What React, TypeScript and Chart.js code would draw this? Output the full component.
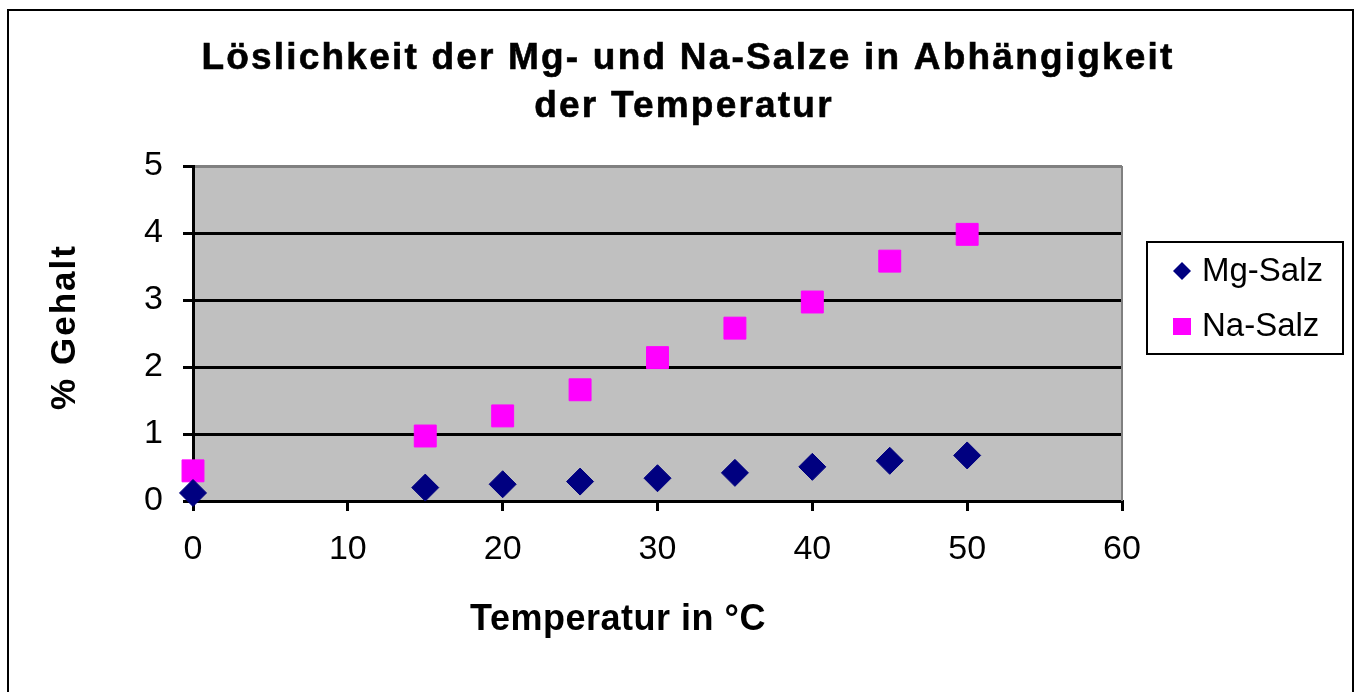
import React, { useEffect, useRef } from "react";
import { Chart, registerables } from "chart.js";

Chart.register(...registerables);

const titleLines = ["Löslichkeit der Mg- und Na-Salze in Abhängigkeit", "der Temperatur"];
const xAxisTitle = "Temperatur in °C";
const yAxisTitle = "% Gehalt";
const seriesNames = ["Mg-Salz", "Na-Salz"];
const temperatures = [0, 15, 20, 25, 30, 35, 40, 45, 50];
const mgValues = [0.12, 0.2, 0.25, 0.29, 0.34, 0.42, 0.51, 0.6, 0.68];
const naValues = [0.45, 0.97, 1.27, 1.66, 2.14, 2.58, 2.97, 3.58, 3.98];

const FONT = '"Liberation Sans", Arial, sans-serif';

const decorPlugin = {
  id: "decor",
  beforeDraw(chart: any) {
    const { ctx, chartArea } = chart;
    ctx.save();
    ctx.fillStyle = "#ffffff";
    ctx.fillRect(0, 0, chart.width, chart.height);
    ctx.fillStyle = "#C0C0C0";
    ctx.fillRect(chartArea.left, chartArea.top, chartArea.right - chartArea.left, chartArea.bottom - chartArea.top);
    ctx.restore();
  },
  beforeDatasetsDraw(chart: any) {
    const { ctx, chartArea } = chart;
    ctx.save();
    ctx.strokeStyle = "#808080";
    ctx.lineWidth = 2;
    ctx.beginPath();
    ctx.moveTo(chartArea.right, chartArea.top);
    ctx.lineTo(chartArea.right, chartArea.bottom);
    ctx.stroke();
    ctx.restore();
  },
  afterDraw(chart: any) {
    const { ctx } = chart;
    ctx.save();
    // outer border
    ctx.strokeStyle = "#000";
    ctx.lineWidth = 2;
    ctx.strokeRect(8, 10, 1345, 700);

    // title
    ctx.fillStyle = "#000";
    ctx.strokeStyle = "#000";
    ctx.font = `bold 37px ${FONT}`;
    (ctx as any).letterSpacing = "2.2px";
    ctx.textAlign = "center";
    ctx.textBaseline = "alphabetic";
    ctx.lineWidth = 0.6;
    ctx.fillText(titleLines[0], 688, 69);
    ctx.strokeText(titleLines[0], 688, 69);
    ctx.fillText(titleLines[1], 684, 117);
    ctx.strokeText(titleLines[1], 684, 117);

    // x axis title
    (ctx as any).letterSpacing = "0.5px";
    ctx.font = `bold 36px ${FONT}`;
    ctx.fillText(xAxisTitle, 618, 630);

    // y axis title
    (ctx as any).letterSpacing = "2px";
    ctx.font = `bold 35px ${FONT}`;
    ctx.save();
    ctx.translate(75, 327);
    ctx.rotate(-Math.PI / 2);
    ctx.fillText(yAxisTitle, 0, 0);
    ctx.restore();

    // legend
    (ctx as any).letterSpacing = "0px";
    ctx.strokeStyle = "#000";
    ctx.lineWidth = 2;
    ctx.strokeRect(1147, 242, 196, 112);
    const ys = [271, 326];
    chart.data.datasets.forEach((ds: any, i: number) => {
      const y = ys[i];
      const cx = 1182;
      ctx.fillStyle = ds.backgroundColor;
      ctx.beginPath();
      if (ds.pointStyle === "rectRot") {
        const r = 9;
        ctx.moveTo(cx - r, y);
        ctx.lineTo(cx, y - r);
        ctx.lineTo(cx + r, y);
        ctx.lineTo(cx, y + r);
        ctx.closePath();
      } else {
        ctx.rect(cx - 9, y - 8, 18, 17);
      }
      ctx.fill();
      ctx.fillStyle = "#000";
      ctx.font = `33px ${FONT}`;
      ctx.textAlign = "left";
      ctx.textBaseline = "middle";
      ctx.fillText(ds.label, 1202, y + 1);
    });
    ctx.restore();
  },
};

export default function App() {
  const canvasRef = useRef<HTMLCanvasElement | null>(null);

  useEffect(() => {
    if (!canvasRef.current) return;
    const chart = new Chart(canvasRef.current, {
      type: "scatter",
      data: {
        datasets: [
          {
            label: seriesNames[0],
            data: temperatures.map((t, i) => ({ x: t, y: mgValues[i] })),
            pointStyle: "rectRot",
            pointRadius: 13.5,
            pointHoverRadius: 13.5,
            backgroundColor: "#000080",
            borderColor: "#000080",
            borderWidth: 1,
            clip: false as any,
          },
          {
            label: seriesNames[1],
            data: temperatures.map((t, i) => ({ x: t, y: naValues[i] })),
            pointStyle: "rect",
            pointRadius: 15.5,
            pointHoverRadius: 15.5,
            backgroundColor: "#FF00FF",
            borderColor: "#FF00FF",
            borderWidth: 1,
            clip: false as any,
          },
        ],
      },
      options: {
        animation: false,
        responsive: false,
        maintainAspectRatio: false,
        events: [],
        layout: { padding: { left: 0, top: 166, right: 235, bottom: 0 } },
        plugins: {
          legend: { display: false },
          title: { display: false },
          tooltip: { enabled: false },
        },
        scales: {
          x: {
            type: "linear",
            min: 0,
            max: 60,
            ticks: {
              stepSize: 10,
              color: "#000",
              font: { family: FONT, size: 34 },
              padding: 18,
              maxRotation: 0,
            },
            grid: {
              drawOnChartArea: false,
              drawTicks: true,
              tickLength: 10,
              tickColor: "#000",
              lineWidth: 3,
            },
            border: { display: true, color: "#000", width: 3 },
            afterFit: (scale: any) => {
              scale.height = 191;
            },
          },
          y: {
            type: "linear",
            min: 0,
            max: 5,
            ticks: {
              stepSize: 1,
              color: "#000",
              font: { family: FONT, size: 34 },
              padding: 20,
            },
            grid: {
              drawOnChartArea: true,
              drawTicks: true,
              tickLength: 10,
              tickColor: "#000",
              color: (c: any) => (c.tick && c.tick.value === 5 ? "#808080" : "#000"),
              lineWidth: 3,
            },
            border: { display: true, color: "#000", width: 3 },
            afterFit: (scale: any) => {
              scale.width = 193;
            },
          },
        },
      },
      plugins: [decorPlugin],
    } as any);
    return () => chart.destroy();
  }, []);

  return (
    <div style={{ position: "fixed", left: 0, top: 0, width: 1357, height: 692, background: "#fff" }}>
      <canvas ref={canvasRef} width={1357} height={692} style={{ display: "block", width: 1357, height: 692 }} />
    </div>
  );
}
